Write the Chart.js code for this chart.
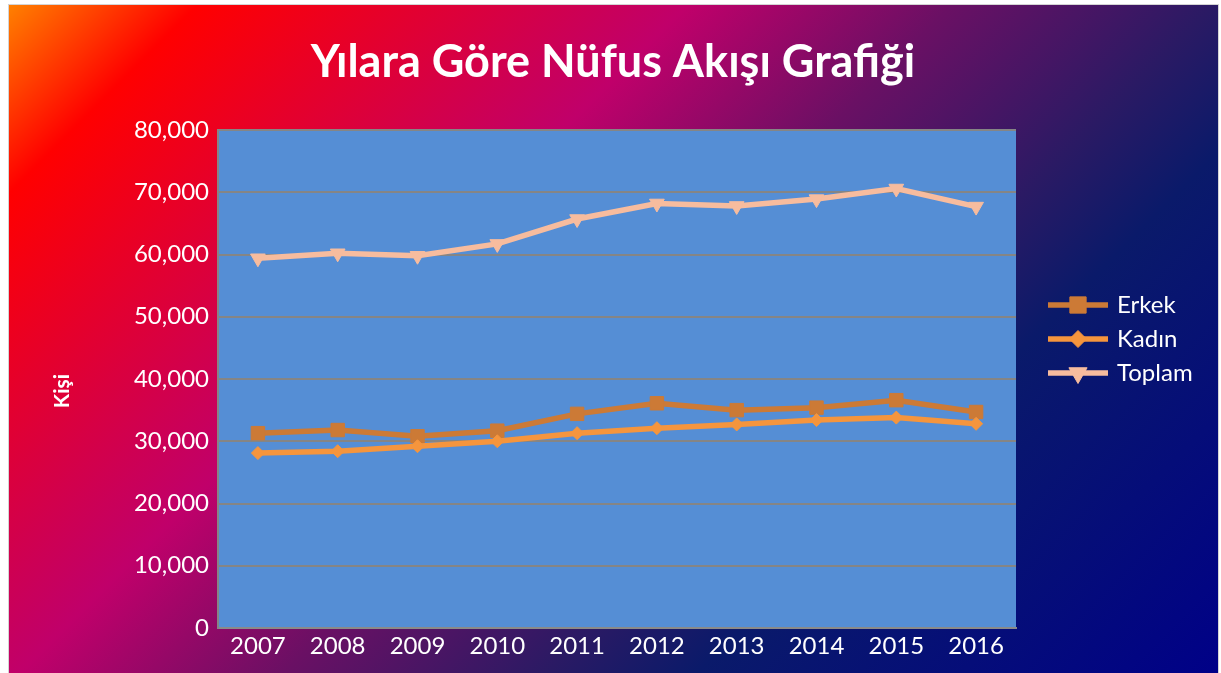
<!DOCTYPE html>
<html><head><meta charset="utf-8">
<script src="https://cdn.jsdelivr.net/npm/chart.js@4/dist/chart.umd.min.js"></script>
<style>
html,body{margin:0;padding:0;background:#fff;width:1221px;height:673px;overflow:hidden}
#frame{position:absolute;left:8px;top:4px;width:1209px;height:675px;border:1px solid #d4d4d4;
background:linear-gradient(135deg,#ff8000 0%,#ff0000 10%,#c0006a 36%,#6a1064 50%,#2a1a64 64%,#0a1a6a 72%,#000088 100%);}
#c{position:absolute;left:0;top:0;width:1221px;height:673px}
</style></head>
<body><div id="frame"></div><canvas id="c" width="1221" height="673"></canvas>
<script>
const categories = ['2007','2008','2009','2010','2011','2012','2013','2014','2015','2016'];
const erkek  = [31300, 31800, 30800, 31700, 34400, 36100, 35000, 35400, 36600, 34700];
const kadin  = [28100, 28400, 29200, 30000, 31300, 32100, 32700, 33400, 33800, 32800];
const toplam = [59400, 60200, 59800, 61700, 65700, 68200, 67800, 68900, 70600, 67700];
const seriesNames = ['Erkek','Kadın','Toplam'];
const chartTitle = 'Yılara Göre Nüfus Akışı Grafiği';
const yTitle = 'Kişi';

const FONT = 'Lato, Carlito, "DejaVu Sans", sans-serif';

const plotBg = {
  id:'plotBg',
  beforeDraw(chart){
    const {ctx, chartArea:a} = chart;
    ctx.save(); ctx.fillStyle = '#558ed5';
    ctx.fillRect(a.left, a.top, a.right-a.left, a.bottom-a.top);
    ctx.restore();
  }
};

const texts = {
  id:'texts',
  afterDraw(chart){
    const ctx = chart.ctx;
    ctx.save();
    ctx.fillStyle = '#fff';
    ctx.textAlign = 'center'; ctx.textBaseline = 'middle';
    ctx.font = 'bold 45px ' + FONT;
    ctx.fillText(chartTitle, 613, 62);
    ctx.save();
    ctx.translate(62, 391); ctx.rotate(-Math.PI/2);
    ctx.font = 'bold 21px ' + FONT;
    ctx.fillText(yTitle, 0, 0);
    ctx.restore();
    // legend
    const ys = [305, 339, 373];
    chart.data.datasets.forEach((ds, i) => {
      const y = ys[i];
      ctx.strokeStyle = ds.borderColor; ctx.lineWidth = ds.borderWidth;
      ctx.beginPath(); ctx.moveTo(1048, y); ctx.lineTo(1108, y); ctx.stroke();
      ctx.fillStyle = ds.pointBackgroundColor; ctx.strokeStyle = ds.pointBorderColor; ctx.lineWidth = 1;
      Chart.helpers.drawPoint(ctx, {pointStyle: ds.pointStyle, rotation: ds.pointRotation || 0, radius: ds.pointRadius + 2, borderWidth: 1}, 1078, y);
      ctx.fillStyle = '#fff'; ctx.textAlign = 'left'; ctx.textBaseline = 'middle';
      ctx.font = '24px ' + FONT;
      ctx.fillText(ds.label, 1117, y);
    });
    ctx.restore();
  }
};

const mk = (label, data, color, style, r, rot, order) => ({
  label, data, borderColor: color, backgroundColor: color, borderWidth: 5.5,
  pointStyle: style, pointRadius: r, pointHoverRadius: r, pointRotation: rot || 0,
  pointBackgroundColor: color, pointBorderColor: color, pointBorderWidth: 1,
  tension: 0, order
});

new Chart(document.getElementById('c'), {
  type: 'line',
  data: {
    labels: categories,
    datasets: [
      mk(seriesNames[0], erkek, '#cc7a36', 'rect', 9.5, 0, 3),
      mk(seriesNames[1], kadin, '#f5953d', 'rectRot', 6.5, 0, 2),
      mk(seriesNames[2], toplam, '#f7bc9e', 'triangle', 8.5, 180, 1)
    ]
  },
  options: {
    responsive: false, animation: false, devicePixelRatio: 1,
    layout: { padding: { left: 20, right: 205, top: 130, bottom: 5 } },
    plugins: { legend: { display: false }, title: { display: false }, tooltip: { enabled: false } },
    scales: {
      x: {
        type: 'category', offset: true,
        grid: { display: false, drawTicks: false },
        border: { display: true, color: '#8a8a8a', width: 2 },
        ticks: { color: '#fff', font: { family: FONT, size: 24 }, padding: 4, maxRotation: 0, autoSkip: false },
        afterFit(s){ s.height = 40; }
      },
      y: {
        min: 0, max: 80000,
        grid: { color: '#858585', lineWidth: 2, drawTicks: false },
        border: { display: true, color: '#858585', width: 2 },
        ticks: { stepSize: 10000, color: '#fff', font: { family: FONT, size: 24 }, padding: 9,
          callback: v => v.toLocaleString('en-US') },
        afterFit(s){ s.width = 198; }
      }
    }
  },
  plugins: [plotBg, texts]
});
</script>
</body></html>
